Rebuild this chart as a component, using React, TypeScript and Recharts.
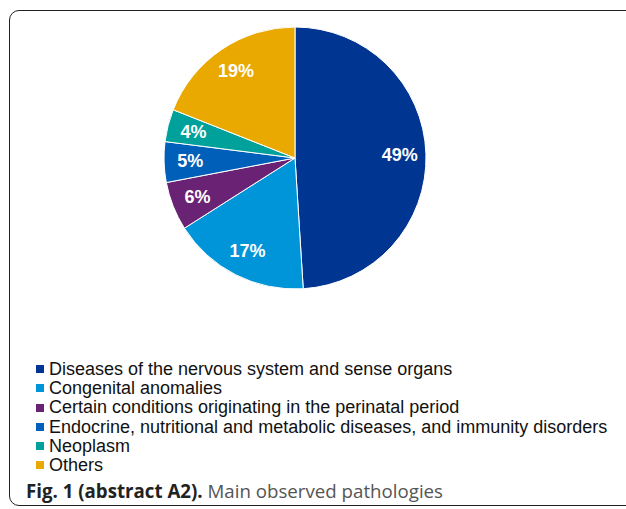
import React from 'react';
import { PieChart, Pie, Cell } from 'recharts';

const CATEGORIES = [
  'Diseases of the nervous system and sense organs',
  'Congenital anomalies',
  'Certain conditions originating in the perinatal period',
  'Endocrine, nutritional and metabolic diseases, and immunity disorders',
  'Neoplasm',
  'Others',
];
const SHARES = [49, 17, 6, 5, 4, 19];
const COLORS = ['#003591', '#0095d9', '#6a2275', '#0060b9', '#00a19a', '#e9a900'];

const data = CATEGORIES.map((name, i) => ({ name, value: SHARES[i] }));

const RADIAN = Math.PI / 180;

const renderLabel = (props: any) => {
  const { cx, cy, midAngle, outerRadius, value } = props;
  const r = outerRadius * 0.8;
  const x = cx + r * Math.cos(-midAngle * RADIAN);
  const y = cy + r * Math.sin(-midAngle * RADIAN);
  return (
    <text
      x={x}
      y={y}
      fill="#fff"
      textAnchor="middle"
      dominantBaseline="central"
      fontFamily="'Liberation Sans', Arial, sans-serif"
      fontWeight="bold"
      fontSize={18}
    >
      {`${value}%`}
    </text>
  );
};

const PieLegend = () => (
  <div style={{ fontFamily: "'Liberation Sans', Arial, sans-serif", fontSize: 18, color: '#111' }}>
    {CATEGORIES.map((c, i) => (
      <div key={c} style={{ height: 19.2, lineHeight: '19.2px', whiteSpace: 'nowrap' }}>
        <span
          style={{
            display: 'inline-block',
            width: 8,
            height: 8,
            background: COLORS[i],
            marginRight: 5,
            verticalAlign: 'middle',
            position: 'relative',
            top: -1,
          }}
        />
        {c}
      </div>
    ))}
  </div>
);

export default function App() {
  return (
    <div style={{ position: 'fixed', left: 0, top: 0, width: 626, height: 509, background: '#fff', overflow: 'hidden' }}>
      <div
        style={{
          position: 'absolute',
          left: 9,
          top: 10,
          width: 660,
          height: 496,
          border: '1.5px solid #222',
          borderRadius: 10,
          boxSizing: 'border-box',
        }}
      />
      <div style={{ position: 'absolute', left: 0, top: 0 }}>
        <PieChart width={626} height={340} margin={{ top: 0, right: 0, bottom: 0, left: 0 }}>
          <Pie
            data={data}
            dataKey="value"
            cx={295}
            cy={158}
            outerRadius={131}
            startAngle={90}
            endAngle={-270}
            stroke="#fff"
            strokeWidth={1}
            label={renderLabel}
            labelLine={false}
            isAnimationActive={false}
          >
            {data.map((_, i) => (
              <Cell key={`cell-${i}`} fill={COLORS[i]} />
            ))}
          </Pie>
        </PieChart>
      </div>
      <div style={{ position: 'absolute', left: 36, top: 360 }}>
        <PieLegend />
      </div>
      <div
        style={{
          position: 'absolute',
          left: 26,
          top: 478,
          fontFamily: "'Open Sans', sans-serif",
          fontSize: 18.7,
          color: '#555',
          whiteSpace: 'nowrap',
        }}
      >
        <span style={{ fontWeight: 'bold', color: '#222' }}>Fig. 1 (abstract A2).</span> Main observed pathologies
      </div>
    </div>
  );
}
